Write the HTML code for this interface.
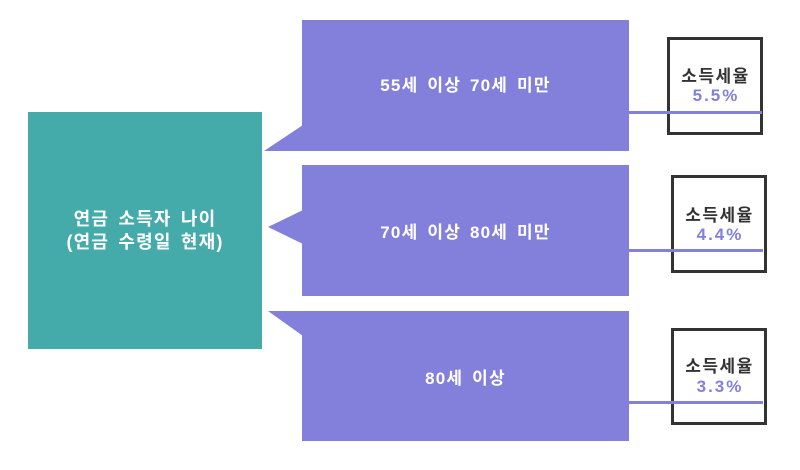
<!DOCTYPE html>
<html><head><meta charset="utf-8"><style>
body{margin:0;width:800px;height:470px;background:#fff;position:relative;overflow:hidden;font-family:"Liberation Sans","Noto Sans CJK KR",sans-serif;font-weight:bold}
.a{position:absolute}
.p{background:#8380dc;color:#fff;font-size:17px;display:flex;align-items:center;justify-content:center;letter-spacing:1.2px;word-spacing:3px}
.r{border:3px solid #333;box-sizing:border-box;background:#fff;text-align:center}
.t{position:absolute;left:0;right:0;font-size:17px;color:#333;letter-spacing:1.5px;padding-left:1px}
.v{position:absolute;left:0;right:0;font-size:17px;color:#8380dc;letter-spacing:2px;padding-left:2px}
.l{height:3px;background:#8380dc}
</style></head><body>
<div class="a" style="left:28px;top:112px;width:234px;height:237px;background:#45aaaa;color:#fff;font-size:18px;display:flex;align-items:center;justify-content:center;text-align:center;line-height:23px;letter-spacing:1.2px;word-spacing:3px">연금 소득자 나이<br>(연금 수령일 현재)</div>
<svg class="a" style="left:0;top:0" width="800" height="470">
<polygon points="303,125 264,151 303,151" fill="#8380dc"/>
<polygon points="303,210 268,227 303,244" fill="#8380dc"/>
<polygon points="303,311 268,311 303,336" fill="#8380dc"/>
</svg>
<div class="a p" style="left:302px;top:20px;width:327px;height:131px;padding-bottom:4px;box-sizing:border-box">55세 이상 70세 미만</div>
<div class="a p" style="left:302px;top:165px;width:327px;height:131px">70세 이상 80세 미만</div>
<div class="a p" style="left:302px;top:311px;width:327px;height:130px">80세 이상</div>
<div class="a r" style="left:667px;top:37px;width:96px;height:98px"><div class="t" style="top:22px">소득세율</div><div class="v" style="top:46px">5.5%</div></div>
<div class="a r" style="left:671px;top:175px;width:96px;height:98px"><div class="t" style="top:23px">소득세율</div><div class="v" style="top:47px">4.4%</div></div>
<div class="a r" style="left:671px;top:328px;width:96px;height:97px"><div class="t" style="top:21px">소득세율</div><div class="v" style="top:46px">3.3%</div></div>
<div class="a l" style="left:629px;top:111px;width:133px"></div>
<div class="a l" style="left:629px;top:249px;width:134px"></div>
<div class="a l" style="left:629px;top:401px;width:134px"></div>
</body></html>
